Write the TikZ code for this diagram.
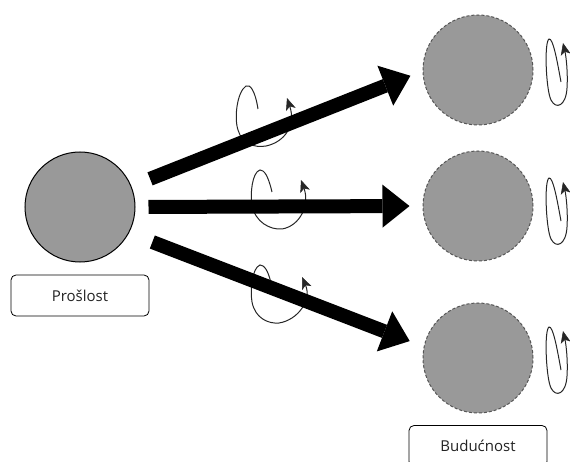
\documentclass[tikz,border=0pt]{standalone}
\usepackage{fontspec}
\setmainfont{Open Sans}
\usetikzlibrary{arrows.meta}
\definecolor{fillgray}{HTML}{999999}
\definecolor{txt}{HTML}{222222}
\definecolor{dashc}{HTML}{555555}
\begin{document}
\begin{tikzpicture}[x=1pt,y=-1pt,
  pastc/.style={circle,draw=black,line width=1pt,fill=fillgray,minimum size=110pt,inner sep=0pt},
  futc/.style={circle,draw=dashc,dash pattern=on 3pt off 2pt,line width=1pt,fill=fillgray,minimum size=110pt,inner sep=0pt},
  namebox/.style={draw=black,rounded corners=5pt,line width=0.8pt,minimum width=138pt,minimum height=41pt,inner sep=0pt,font=\fontsize{15}{18}\selectfont,text=txt},
  bigarrow/.style={line width=14pt,-{Triangle[width=43pt,length=27pt,line width=0pt]}},
  curl/.style={line width=1pt,draw=black!85,-{Stealth[length=12pt,width=10pt,inset=3pt,line width=0.5pt]}}]
\useasboundingbox (0,0) rectangle (570,462);
\clip (0,0) rectangle (570,462);
% nodes
\node[pastc] (p) at (80,207) {};
\node[futc] (f1) at (478,70) {};
\node[futc] (f2) at (478,206) {};
\node[futc] (f3) at (478,358) {};
\node[namebox] (pl) at (80,295.5) {Prošlost};
\node[namebox] (bl) at (478,446) {Budućnost};
% curls near arrows
\draw[curl] (258,109) .. controls (255,90) and (250,84) .. (246,86)
  .. controls (237,92) and (234,118) .. (238,130)
  .. controls (242,144) and (255,148) .. (266,146)
  .. controls (285,142) and (296,125) .. (287,98);
\draw[curl] (272,192) .. controls (268,175) and (264,170) .. (260,170)
  .. controls (252,172) and (250,195) .. (252,205)
  .. controls (255,222) and (270,230) .. (282,229)
  .. controls (300,226) and (310,205) .. (301,180);
\draw[curl] (271,283) .. controls (268,270) and (264,265) .. (260,265)
  .. controls (252,268) and (250,290) .. (252,302)
  .. controls (255,318) and (268,324) .. (279,323)
  .. controls (298,320) and (312,300) .. (302,277);
% small curls right
\foreach \dy in {0,139,288}{
  \begin{scope}[yshift=-\dy pt]
  \draw[curl] (561,82) .. controls (557,60) and (553,38) .. (549,39)
    .. controls (544,42) and (546,90) .. (551,100)
    .. controls (556,110) and (566,106) .. (567,88)
    .. controls (568,72) and (566,56) .. (563,43);
  \end{scope}
}
% big arrows
\draw[bigarrow,shorten <=20pt,shorten >=13pt] (p.22) -- (f1.181);
\draw[bigarrow,shorten <=13pt,shorten >=13pt] (p.0) -- (f2.180);
\draw[bigarrow,shorten <=25pt,shorten >=15pt] (p.-28) -- (f3.168);
\end{tikzpicture}
\end{document}
